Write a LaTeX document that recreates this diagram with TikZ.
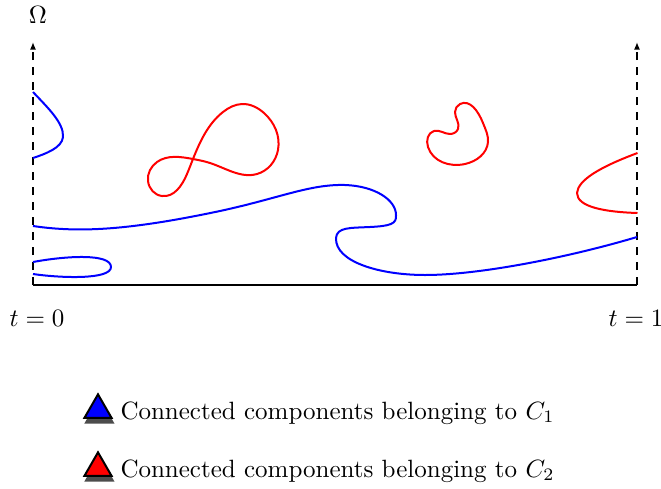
\documentclass[tikz,border=0pt]{standalone}
\usetikzlibrary{shapes.geometric,shadows,arrows.meta,hobby}
\begin{document}
\begin{tikzpicture}[x=0.4pt,y=-0.4pt,
  curve/.style={thick,line join=round},
  hcurve/.style={thick,line join=round,use Hobby shortcut,closed=true},
  axis/.style={thick},
  legtri/.style={regular polygon,regular polygon sides=3,draw=black,thick,inner sep=0pt,minimum size=12.5pt,
    drop shadow={shadow xshift=0.5pt,shadow yshift=-1.6pt,shadow scale=1.12,fill=black!70,opacity=1}}]
\useasboundingbox (0,0) rectangle (661,488);
% axes
\coordinate (o) at (33,285);
\coordinate (oT) at (33,42);
\coordinate (r) at (637,285);
\coordinate (rT) at (637,42);
\draw[axis] (o) -- (r);
\draw[axis,dash pattern=on 3.2pt off 2.8pt,-{Latex[length=3pt,width=2.4pt]}] (o) -- (oT);
\draw[axis,dash pattern=on 3.2pt off 2.8pt,-{Latex[length=3pt,width=2.4pt]}] (r) -- (rT);
\node (om) at (38,15) {$\Omega$};
\node (t0) at (37,318) {$t=0$};
\node (t1) at (636,318) {$t=1$};
% blue curves
\draw[curve,blue] (33,92) .. controls (48,108) and (64,123) .. (63,137) .. controls (62,148) and (45,154) .. (33,158);
\draw[curve,blue] (33,262) .. controls (65,256) and (111,253) .. (111,267) .. controls (111,280) and (60,278) .. (33,274);
\draw[curve,blue] (33,226) .. controls (80,233) and (130,230) .. (220,211)
  .. controls (280,198) and (310,184) .. (345,185)
  .. controls (375,186) and (396,200) .. (396,215)
  .. controls (397,224) and (390,226) .. (370,227)
  .. controls (350,228) and (337,227) .. (336,238)
  .. controls (335,262) and (380,275) .. (425,275)
  .. controls (480,275) and (570,257) .. (637,237);
% red curves
\draw[curve,red] (637.5,153) .. controls (600,167) and (578,180) .. (577,193) .. controls (577,207) and (605,212) .. (637.5,213);
\draw[hcurve,red] (193,159) .. (223,112) .. (242,104) .. (264,113) .. (278,150) .. (257,174) .. (210,163) .. (193,159) .. (157,162) .. (148,181) .. (162,196) .. (187,174);
\draw[hcurve,red] (460,104) .. (483,123) .. (488,142) .. (465,164) .. (428,147) .. (434,131) .. (450,134) .. (458,129) .. (455,112);
% legend
\node[legtri,fill=blue] (lt1) at (98,410) {};
\node[anchor=base west,inner sep=0pt] (lx1) at (120,419) {Connected components belonging to $C_1$};
\node[legtri,fill=red] (lt2) at (98,468) {};
\node[anchor=base west,inner sep=0pt] (lx2) at (120,477) {Connected components belonging to $C_2$};
\end{tikzpicture}
\end{document}
